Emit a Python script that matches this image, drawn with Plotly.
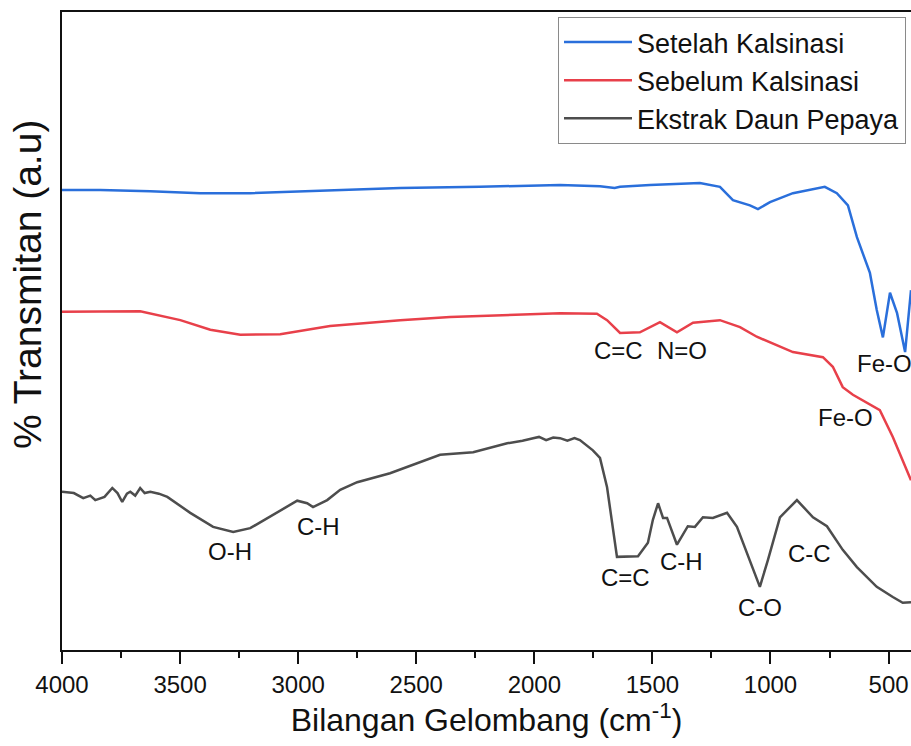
import plotly.graph_objects as go

# Wavenumber (cm^-1) and transmittance (a.u.)
blue_x = [4000, 3838, 3626, 3415, 3203, 2992, 2568, 2230, 1934, 1891, 1722, 1660, 1637, 1510,
          1299, 1214, 1159, 1087, 1053, 1002, 905, 820, 770, 719, 672, 634, 579, 550, 524,
          494, 464, 430, 405]
blue_y = [72.1, 72.1, 71.9, 71.6, 71.6, 71.9, 72.4, 72.6, 72.9, 72.9, 72.7, 72.4, 72.6, 72.9,
          73.2, 72.6, 70.5, 69.7, 69.1, 70.2, 71.6, 72.3, 72.6, 71.6, 69.7, 64.7, 59.1, 53.3, 49.0,
          56.0, 52.8, 46.7, 56.4]

red_x = [4000, 3838, 3669, 3499, 3372, 3245, 3076, 2865, 2568, 2357, 2145, 1891, 1735, 1692,
         1637, 1553, 1468, 1396, 1328, 1214, 1129, 1058, 905, 778, 736, 694, 651, 592, 537,
         482, 405]
red_y = [53.0, 53.0, 53.1, 51.7, 50.2, 49.4, 49.5, 50.8, 51.7, 52.2, 52.5, 52.8, 52.7, 51.7,
         49.7, 49.8, 51.4, 49.8, 51.3, 51.7, 50.6, 49.1, 46.7, 45.9, 44.4, 41.2, 40.0, 38.7, 37.6,
         33.4, 26.6]

gray_x = [4000, 3950, 3910, 3880, 3859, 3820, 3787, 3765, 3745, 3725, 3711, 3690, 3669, 3650,
          3626, 3590, 3554, 3457, 3360, 3275, 3203, 3106, 3004, 2962, 2937, 2877, 2822, 2750,
          2611, 2399, 2259, 2115, 2050, 2005, 1980, 1950, 1920, 1891, 1860, 1830, 1807, 1752,
          1722, 1692, 1650, 1561, 1519, 1498, 1476, 1455, 1438, 1396, 1350, 1320, 1286, 1244,
          1184, 1142, 1087, 1045, 1011, 960, 888, 820, 761, 694, 634, 550, 482, 440, 405]
gray_y = [24.8, 24.6, 23.8, 24.2, 23.5, 24.0, 25.4, 24.6, 23.2, 24.5, 24.8, 24.2, 25.4, 24.6,
          24.8, 24.5, 24.0, 21.5, 19.3, 18.5, 19.1, 21.2, 23.4, 23.0, 22.4, 23.5, 25.1, 26.3,
          27.7, 30.6, 31.0, 32.4, 32.8, 33.2, 33.4, 32.9, 33.3, 33.2, 32.8, 33.2, 32.9, 31.3,
          30.1, 25.5, 14.6, 14.7, 16.8, 20.4, 23.0, 20.7, 20.7, 16.5, 19.4, 19.3, 20.8, 20.7,
          21.5, 19.3, 14.1, 9.9, 14.1, 20.8, 23.5, 20.8, 19.4, 15.7, 13.0, 9.9, 8.3, 7.4, 7.5]

series_names = ["Setelah Kalsinasi", "Sebelum Kalsinasi", "Ekstrak Daun Pepaya"]
series_colors = ["#2a6fdb", "#e8404a", "#4d4d4d"]

# Peak labels: (text, wavenumber, transmittance)
label_text = ["Fe-O", "Fe-O", "C=C", "N=O", "O-H", "C-H", "C=C", "C-H", "C-O", "C-C"]
label_x = [643, 681, 1642, 1375, 3288, 2915, 1612, 1375, 1045, 833]
label_y = [44.9, 36.4, 47.0, 47.0, 15.4, 19.4, 11.4, 13.8, 6.7, 15.2]
label_anchor = ["left", "center", "center", "center", "center", "center", "center", "center",
                "center", "center"]

FONT = "Arial, Liberation Sans, sans-serif"

fig = go.Figure()
for xs, ys, nm, col in zip([blue_x, red_x, gray_x], [blue_y, red_y, gray_y], series_names,
                           series_colors):
    fig.add_trace(go.Scatter(x=xs, y=ys, mode="lines", name=nm,
                             line=dict(color=col, width=2.5)))

for t, x, y, a in zip(label_text, label_x, label_y, label_anchor):
    fig.add_annotation(x=x, y=y, text=t, showarrow=False, xanchor=a, yanchor="middle",
                       font=dict(family=FONT, size=24, color="#111111"))

fig.add_annotation(xref="paper", yref="paper", x=(27 - 62) / 849, y=0.572,
                   text="% Transmitan (a.u)", textangle=-90, showarrow=False,
                   xanchor="center", yanchor="middle",
                   font=dict(family=FONT, size=39, color="#111111"))

fig.update_layout(
    width=911, height=746,
    margin=dict(l=62, r=0, t=12, b=96),
    paper_bgcolor="white", plot_bgcolor="white",
    font=dict(family=FONT, color="#111111"),
    legend=dict(x=1.0 - 5 / 849, y=1.0 - 5 / 638, xanchor="right", yanchor="top",
                bordercolor="#8a8a8a", borderwidth=1, bgcolor="white",
                font=dict(family=FONT, size=27, color="#111111"),
                itemwidth=68, tracegroupgap=0),
    xaxis=dict(range=[4000, 405], tickvals=[4000, 3500, 3000, 2500, 2000, 1500, 1000, 500],
               ticks="outside", ticklen=12, tickwidth=2, tickcolor="#111111",
               minor=dict(dtick=250, tick0=0, ticks="outside", ticklen=6, tickwidth=2,
                          tickcolor="#111111"),
               showline=True, linecolor="#111111", linewidth=2, mirror=True,
               showgrid=False, zeroline=False,
               tickfont=dict(family=FONT, size=24, color="#111111"),
               title=dict(text="Bilangan Gelombang (cm<sup>-1</sup>)", standoff=12,
                          font=dict(family=FONT, size=32, color="#111111"))),
    yaxis=dict(range=[0, 100], showticklabels=False, ticks="", showline=True,
               linecolor="#111111", linewidth=2, showgrid=False, zeroline=False),
)

fig.write_html("out.html")
